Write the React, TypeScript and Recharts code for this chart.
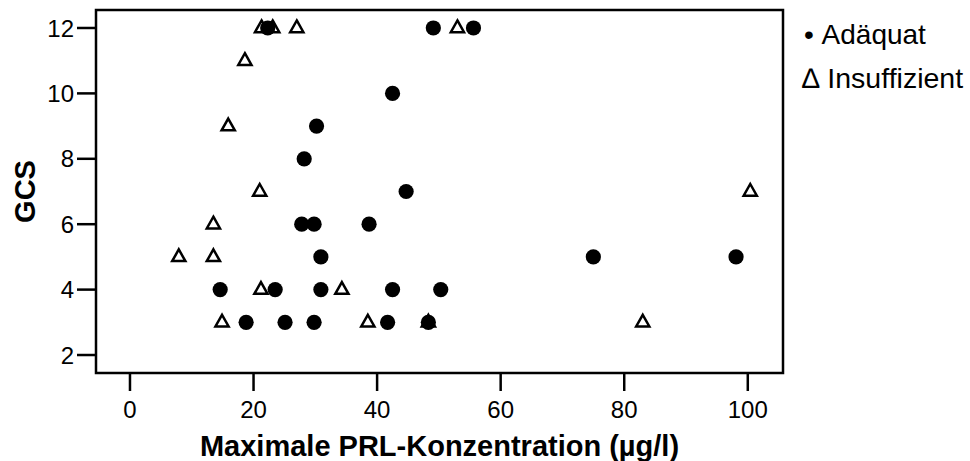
import React from 'react';
import { ScatterChart, Scatter, XAxis, YAxis, ReferenceArea } from 'recharts';

const adaquatX = [22.3, 49.1, 55.6, 42.5, 30.2, 28.2, 44.7, 27.8, 29.8, 38.7, 30.9, 75.0, 98.1, 14.6, 23.5, 30.9, 42.5, 50.3, 18.8, 25.1, 29.8, 41.7, 48.3];
const adaquatY = [12, 12, 12, 10, 9, 8, 7, 6, 6, 6, 5, 5, 5, 4, 4, 4, 4, 4, 3, 3, 3, 3, 3];

const insuffX = [21.3, 23.1, 27.0, 53.0, 18.6, 15.9, 21.0, 100.4, 13.5, 7.9, 13.5, 21.2, 34.3, 14.9, 38.5, 48.3, 83.0];
const insuffY = [12, 12, 12, 12, 11, 9, 7, 7, 6, 5, 5, 4, 4, 3, 3, 3, 3];

const xTicks = [0, 20, 40, 60, 80, 100];
const yTicks = [2, 4, 6, 8, 10, 12];
const X_DOMAIN: [number, number] = [-5.5, 105.7];
const Y_DOMAIN: [number, number] = [1.45, 12.55];

const adaquat = adaquatX.map((x, i) => ({ x, y: adaquatY[i] }));
const insuff = insuffX.map((x, i) => ({ x, y: insuffY[i] }));

const FONT = '"Liberation Sans", Arial, Helvetica, sans-serif';

const Circle = (props: any) => {
  const { cx, cy } = props;
  if (cx == null || cy == null) return null;
  return <circle cx={cx} cy={cy} r={7.6} fill="#000" />;
};

const Triangle = (props: any) => {
  const { cx, cy } = props;
  if (cx == null || cy == null) return null;
  const d = `M${cx},${cy - 7.5} L${cx + 6.6},${cy + 4.2} L${cx - 6.6},${cy + 4.2} Z`;
  return <path d={d} fill="#fff" stroke="#000" strokeWidth={2.5} strokeLinejoin="miter" />;
};

export default function App() {
  return (
    <div style={{ position: 'absolute', left: 0, top: 0, width: 970, height: 461, background: '#fff' }}>
      <ScatterChart width={970} height={461} margin={{ top: 10, right: 187, bottom: 0, left: 0 }}>
        <XAxis
          type="number"
          dataKey="x"
          domain={X_DOMAIN}
          ticks={xTicks}
          height={88}
          axisLine={false}
          tickSize={18}
          tickMargin={10}
          tickLine={{ stroke: '#000', strokeWidth: 2.5 }}
          tick={{ fill: '#000', fontSize: 24, fontFamily: FONT }}
          allowDataOverflow
          label={() => (
            <text x={439.5} y={456} textAnchor="middle" fontFamily={FONT} fontWeight="bold" fontSize={29} fill="#000">
              Maximale PRL-Konzentration (µg/l)
            </text>
          )}
        />
        <YAxis
          type="number"
          dataKey="y"
          domain={Y_DOMAIN}
          ticks={yTicks}
          width={96}
          axisLine={false}
          tickSize={19}
          tickMargin={3}
          tickLine={{ stroke: '#000', strokeWidth: 2.5 }}
          tick={{ fill: '#000', fontSize: 24, fontFamily: FONT }}
          allowDataOverflow
          label={() => (
            <text
              x={25}
              y={191.5}
              transform="rotate(-90 25 191.5)"
              textAnchor="middle"
              dominantBaseline="central"
              fontFamily={FONT}
              fontWeight="bold"
              fontSize={29}
              fill="#000"
            >
              GCS
            </text>
          )}
        />
        <ReferenceArea
          x1={X_DOMAIN[0]}
          x2={X_DOMAIN[1]}
          y1={Y_DOMAIN[0]}
          y2={Y_DOMAIN[1]}
          fill="none"
          fillOpacity={0}
          stroke="#000"
          strokeWidth={2.5}
          ifOverflow="visible"
        />
        <Scatter data={insuff} shape={Triangle} isAnimationActive={false} />
        <Scatter data={adaquat} shape={Circle} isAnimationActive={false} />
      </ScatterChart>
      <div style={{ position: 'absolute', left: 804, top: 21, fontFamily: FONT, fontSize: 28, lineHeight: '28px', color: '#000', whiteSpace: 'nowrap' }}>
        •&nbsp;Adäquat
      </div>
      <div style={{ position: 'absolute', left: 802, top: 64, fontFamily: FONT, fontSize: 28.5, lineHeight: '28px', color: '#000', whiteSpace: 'nowrap' }}>
        ∆ Insuffizient
      </div>
    </div>
  );
}
